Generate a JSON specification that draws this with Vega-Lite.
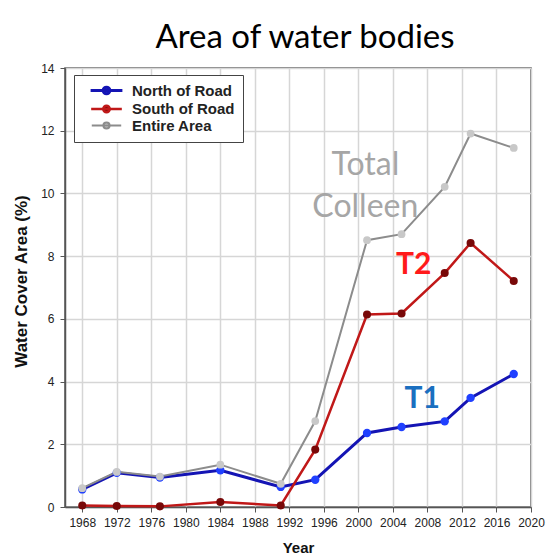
{
  "$schema": "https://vega.github.io/schema/vega-lite/v6.json",
  "width": 466,
  "height": 439,
  "autosize": {"type": "none"},
  "padding": {"left": 65, "top": 68, "right": 21, "bottom": 50},
  "background": "white",
  "title": {"text": "Area of water bodies", "font": "Lato", "fontSize": 33, "fontWeight": "normal", "color": "#000000", "anchor": "middle", "dx": 7, "offset": 7},
  "datasets": {
    "series": [
      {"series": "North of Road", "year": 1968, "value": 0.56},
      {"series": "North of Road", "year": 1972, "value": 1.09},
      {"series": "North of Road", "year": 1977, "value": 0.94},
      {"series": "North of Road", "year": 1984, "value": 1.17},
      {"series": "North of Road", "year": 1991, "value": 0.64},
      {"series": "North of Road", "year": 1995, "value": 0.87},
      {"series": "North of Road", "year": 2001, "value": 2.36},
      {"series": "North of Road", "year": 2005, "value": 2.55},
      {"series": "North of Road", "year": 2010, "value": 2.73},
      {"series": "North of Road", "year": 2013, "value": 3.48},
      {"series": "North of Road", "year": 2018, "value": 4.24},
      {"series": "South of Road", "year": 1968, "value": 0.05},
      {"series": "South of Road", "year": 1972, "value": 0.03},
      {"series": "South of Road", "year": 1977, "value": 0.02},
      {"series": "South of Road", "year": 1984, "value": 0.16},
      {"series": "South of Road", "year": 1991, "value": 0.05},
      {"series": "South of Road", "year": 1995, "value": 1.83},
      {"series": "South of Road", "year": 2001, "value": 6.14},
      {"series": "South of Road", "year": 2005, "value": 6.17},
      {"series": "South of Road", "year": 2010, "value": 7.46},
      {"series": "South of Road", "year": 2013, "value": 8.42},
      {"series": "South of Road", "year": 2018, "value": 7.21},
      {"series": "Entire Area", "year": 1968, "value": 0.6},
      {"series": "Entire Area", "year": 1972, "value": 1.12},
      {"series": "Entire Area", "year": 1977, "value": 0.97},
      {"series": "Entire Area", "year": 1984, "value": 1.35},
      {"series": "Entire Area", "year": 1991, "value": 0.74},
      {"series": "Entire Area", "year": 1995, "value": 2.74},
      {"series": "Entire Area", "year": 2001, "value": 8.51},
      {"series": "Entire Area", "year": 2005, "value": 8.7},
      {"series": "Entire Area", "year": 2010, "value": 10.21},
      {"series": "Entire Area", "year": 2013, "value": 11.91},
      {"series": "Entire Area", "year": 2018, "value": 11.45}
    ],
    "labels": [
      {"label": "Total", "year": 2000.8, "value": 10.58},
      {"label": "Colleen", "year": 2000.8, "value": 9.25},
      {"label": "T2", "year": 2006.4, "value": 7.44},
      {"label": "T1", "year": 2007.4, "value": 3.17}
    ]
  },
  "config": {
    "view": {"stroke": "#555555", "strokeWidth": 1.5},
    "axis": {
      "labelFont": "Liberation Sans",
      "labelFontSize": 12,
      "labelColor": "#222222",
      "titleFont": "Liberation Sans",
      "titleFontWeight": "bold",
      "titleColor": "#111111",
      "tickColor": "#555555",
      "tickSize": 5,
      "domainColor": "#555555",
      "domainWidth": 1.5,
      "gridColor": "#d6d6d6",
      "gridWidth": 1.5,
      "labelOverlap": false
    },
    "axisX": {"labelOverlap": false, "labelSeparation": 0},
    "axisQuantitative": {"labelOverlap": false}
  },
  "encoding": {
    "x": {"field": "year", "type": "quantitative", "scale": {"domain": [1966, 2020], "nice": false, "zero": false},
      "axis": {"values": [1968, 1972, 1976, 1980, 1984, 1988, 1992, 1996, 2000, 2004, 2008, 2012, 2016, 2020], "format": "d", "title": "Year", "titleFontSize": 15, "labelPadding": 5, "labelFlush": false, "labelOverlap": false, "labelBound": false, "titlePadding": 12}},
    "y": {"field": "value", "type": "quantitative", "scale": {"domain": [0, 14], "nice": false},
      "axis": {"values": [0, 2, 4, 6, 8, 10, 12, 14], "title": "Water Cover Area (%)", "titleFontSize": 17, "labelPadding": 6, "labelOverlap": false, "titlePadding": 10, "titleY": 213}}
  },
  "layer": [
    {
      "data": {"name": "series"},
      "mark": {"type": "line"},
      "encoding": {
        "color": {"field": "series", "type": "nominal",
          "scale": {"domain": ["North of Road", "South of Road", "Entire Area"], "range": ["#1414b4", "#c01818", "#8c8c8c"]},
          "legend": {
            "orient": "none", "legendX": 9, "legendY": 7, "title": null,
            "symbolType": "M-3.8,0L3.8,0M0.8,0A0.8,0.8,0,1,1,-0.8,0A0.8,0.8,0,1,1,0.8,0",
            "symbolSize": 100, "symbolStrokeWidth": 2.5, "symbolOffset": 17, "labelOffset": 18,
            "labelFont": "Liberation Sans", "labelFontSize": 15, "labelFontWeight": "bold", "labelColor": "#222222",
            "padding": 8, "rowPadding": 0.5, "strokeColor": "#444444", "fillColor": "white",
            "encode": {"symbols": {"update": {"fill": {"scale": "fill", "field": "value"}}}}
          }},
        "strokeWidth": {"field": "series", "type": "nominal",
          "scale": {"domain": ["North of Road", "South of Road", "Entire Area"], "range": [3, 2, 2.2]}, "legend": null}
      }
    },
    {
      "data": {"name": "series"},
      "mark": {"type": "point", "filled": true, "opacity": 1, "strokeWidth": 0},
      "encoding": {
        "fill": {"field": "series", "type": "nominal",
          "scale": {"domain": ["North of Road", "South of Road", "Entire Area"], "range": ["#2040ff", "#780808", "#c8c8c8"]}, "legend": null},
        "size": {"field": "series", "type": "nominal",
          "scale": {"domain": ["North of Road", "South of Road", "Entire Area"], "range": [70, 60, 45]}, "legend": null}
      }
    },
    {
      "data": {"name": "labels"},
      "transform": [{"filter": "datum.label == 'Total' || datum.label == 'Colleen'"}],
      "mark": {"type": "text", "font": "Lato", "fontSize": 32, "color": "#a6a6a6", "align": "center", "baseline": "alphabetic"},
      "encoding": {"text": {"field": "label"}}
    },
    {
      "data": {"name": "labels"},
      "transform": [{"filter": "datum.label == 'T2'"}],
      "mark": {"type": "text", "font": "Lato", "fontSize": 30, "fontWeight": "bold", "color": "#ff1a1a", "align": "center", "baseline": "alphabetic"},
      "encoding": {"text": {"field": "label"}}
    },
    {
      "data": {"name": "labels"},
      "transform": [{"filter": "datum.label == 'T1'"}],
      "mark": {"type": "text", "font": "Lato", "fontSize": 30, "fontWeight": "bold", "color": "#1a6fc0", "align": "center", "baseline": "alphabetic"},
      "encoding": {"text": {"field": "label"}}
    }
  ]
}
